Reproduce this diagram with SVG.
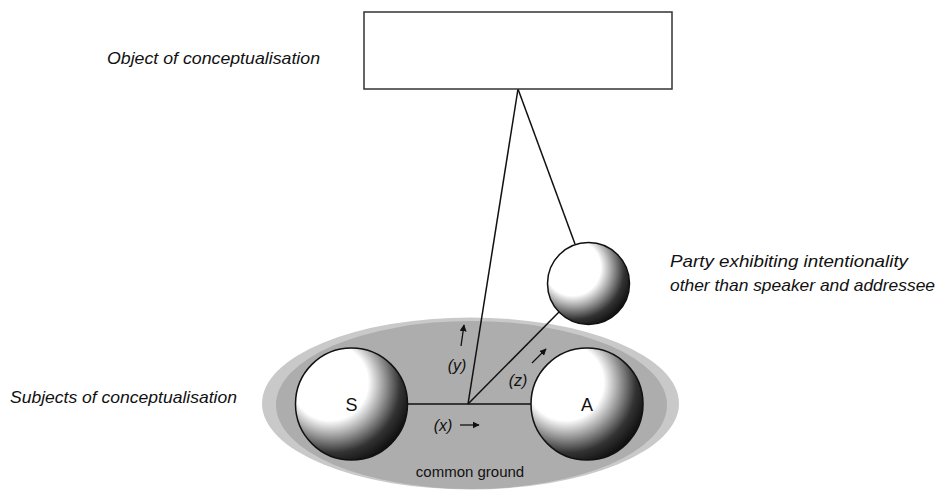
<svg xmlns="http://www.w3.org/2000/svg" width="938" height="492" viewBox="0 0 938 492">
<defs>
<radialGradient id="ball" cx="0.34" cy="0.34" r="0.74" fx="0.28" fy="0.28">
<stop offset="0" stop-color="#ffffff"/>
<stop offset="0.46" stop-color="#ffffff"/>
<stop offset="0.64" stop-color="#9a9a9a"/>
<stop offset="0.82" stop-color="#333333"/>
<stop offset="1" stop-color="#0a0a0a"/>
</radialGradient>
<marker id="ah" viewBox="0 0 10 10" refX="9" refY="5" markerWidth="7" markerHeight="7" markerUnits="userSpaceOnUse" orient="auto">
<path d="M0,0 L10,5 L0,10 z" fill="#111"/>
</marker>
<style>
.lbl{font-family:"Liberation Sans",Arial,sans-serif;font-style:italic;font-size:17px;fill:#111}
.sm{font-family:"Liberation Sans",Arial,sans-serif;font-style:italic;font-size:16px;fill:#111;text-anchor:middle}
.in{font-family:"Liberation Sans",Arial,sans-serif;font-size:18px;fill:#111;text-anchor:middle}
.cg{font-family:"Liberation Sans",Arial,sans-serif;font-size:15px;fill:#111;text-anchor:middle}
.ln{stroke:#111;stroke-width:1.5;fill:none}
.arr{stroke:#111;stroke-width:1.3;fill:none;marker-end:url(#ah)}
.ball{fill:url(#ball);stroke:#111;stroke-width:1.5}
</style>
</defs>
<rect width="938" height="492" fill="#ffffff"/>
<g id="common-ground">
<ellipse cx="470.5" cy="403.5" rx="208.5" ry="86" fill="#c9c9c9"/>
<ellipse cx="471.5" cy="405" rx="195.5" ry="84" fill="#adadad"/>
<text class="cg" x="470" y="477">common ground</text>
</g>
<g id="connectors">
<line class="ln" x1="408" y1="404" x2="531" y2="404"/>
<line class="ln" x1="468" y1="404" x2="518" y2="89"/>
<line class="ln" x1="518" y1="89" x2="575" y2="244"/>
<line class="ln" x1="468" y1="404" x2="559" y2="312"/>
<line class="arr" x1="461" y1="346" x2="464" y2="325"/>
<line class="arr" x1="532" y1="363" x2="546" y2="349"/>
<line class="arr" x1="460" y1="425" x2="479" y2="425"/>
<text class="sm" x="457" y="371">(y)</text>
<text class="sm" x="518" y="386">(z)</text>
<text class="sm" x="443" y="431">(x)</text>
</g>
<g id="object">
<rect x="364" y="12" width="308" height="77" fill="#ffffff" stroke="#333" stroke-width="1.5"/>
</g>
<g id="speaker">
<circle class="ball" cx="351.5" cy="404" r="56"/>
<text class="in" x="351.5" y="411">S</text>
</g>
<g id="addressee">
<circle class="ball" cx="587" cy="404" r="56"/>
<text class="in" x="587" y="411">A</text>
</g>
<g id="party">
<circle class="ball" cx="588.5" cy="283.5" r="41"/>
</g>
<g id="labels">
<text class="lbl" x="107" y="64" textLength="213" lengthAdjust="spacingAndGlyphs">Object of conceptualisation</text>
<text class="lbl" x="10" y="403" textLength="227" lengthAdjust="spacingAndGlyphs">Subjects of conceptualisation</text>
<text class="lbl" x="670" y="267" textLength="238" lengthAdjust="spacingAndGlyphs">Party exhibiting intentionality</text>
<text class="lbl" x="670" y="291" textLength="265" lengthAdjust="spacingAndGlyphs">other than speaker and addressee</text>
</g>
</svg>
